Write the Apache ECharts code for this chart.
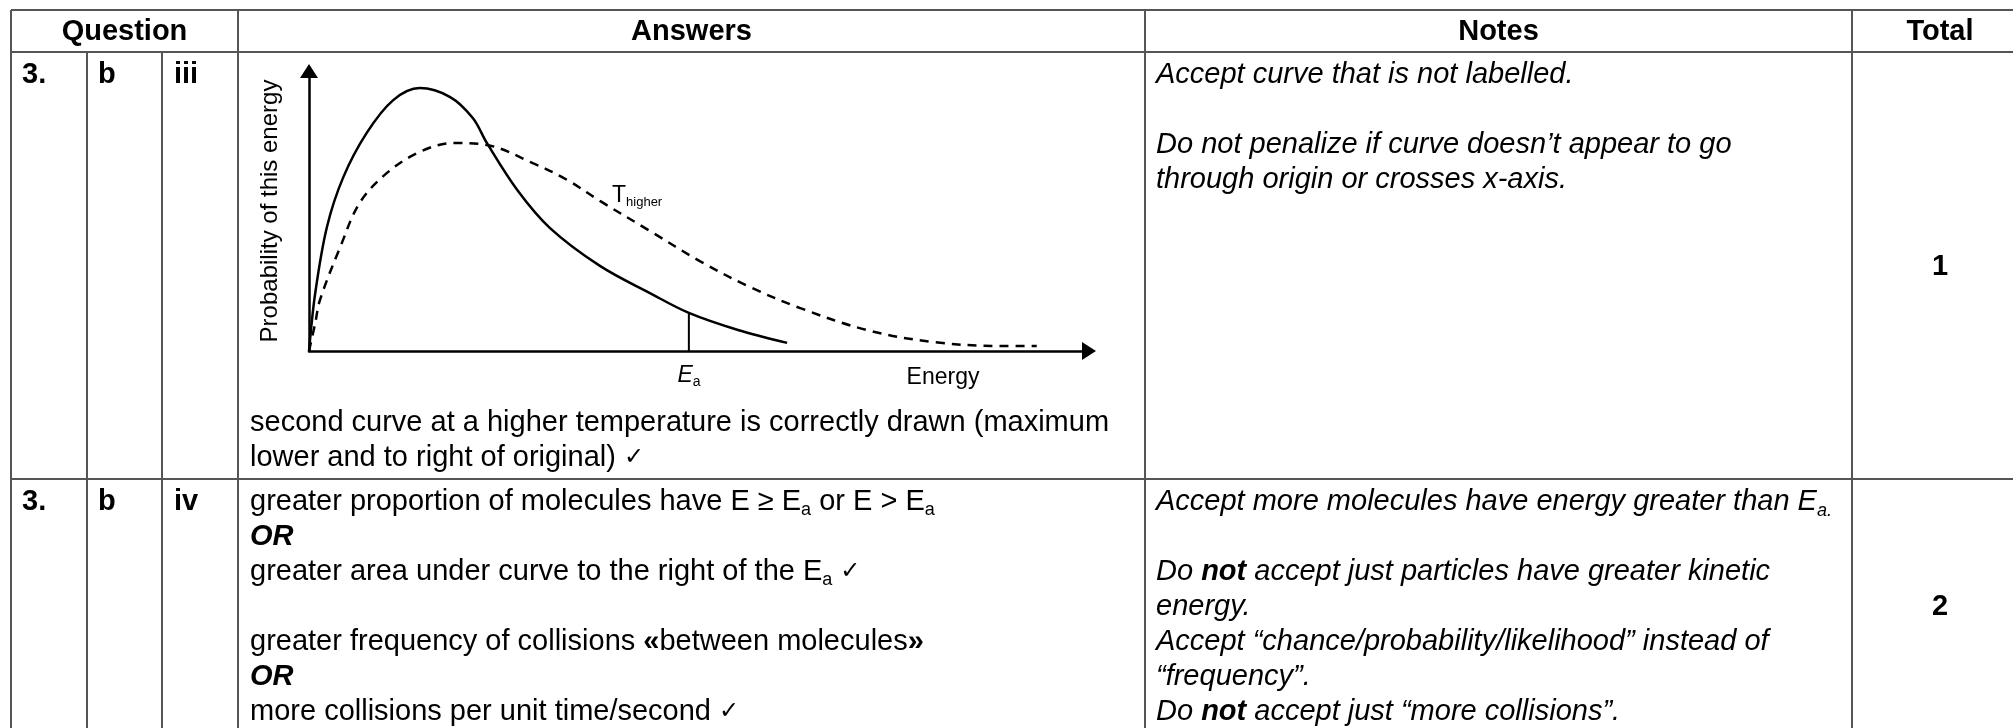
<!DOCTYPE html>
<html>
<head>
<meta charset="utf-8">
<title>3 b iii / iv</title>
<script src="https://cdn.jsdelivr.net/npm/echarts@6/dist/echarts.min.js"></script>
<style>
html, body {margin:0; padding:0; background:#fff;}
#chart {width:2013px; height:728px;}
</style>
</head>
<body>
<div id="chart"></div>
<script>
// 原温度曲线，读图估计 (energy, probability)
var lowEnergy = [0, 0.8, 2.3, 4.4, 7.4, 10.8, 14.2, 18.1, 21.0, 22.8, 26.7, 30.9, 37.3, 43.7, 48.7, 55.0, 61.3];
var lowProb   = [0, 20.7, 44.3, 62.1, 77.9, 89.6, 93.9, 90.7, 83.2, 74.3, 57.5, 43.9, 30.4, 20.7, 13.6, 7.5, 2.9];

// 较高温度曲线（虚线）
var highEnergy = [0, 0.8, 1.4, 4.0, 6.5, 10.0, 14.2, 18.5, 22.8, 28.7, 33.1, 37.3, 43.7, 50.1, 56.5, 62.9, 71.5, 80.0, 88.6, 93.3];
var highProb   = [0, 10.0, 18.2, 37.1, 52.9, 63.6, 71.1, 74.3, 73.6, 67.1, 61.1, 53.6, 42.9, 32.1, 22.9, 15.4, 7.5, 3.2, 1.8, 1.8];

// Ea 竖线
var eaEnergy = 48.7;
var eaProb = 13.6;

// 表格文字
var headers = ['Question', 'Answers', 'Notes', 'Total'];
var qNums = ['3.', '3.'];
var qParts = ['b', 'b'];
var qSubs = ['iii', 'iv'];
var totals = ['1', '2'];
var answers1 = [
	'second curve at a higher temperature is correctly drawn (maximum',
	'lower and to right of original) {tk|✓}'
];
var answers2 = [
	'greater proportion of molecules have E ≥ E{s|a} or E > E{s|a}',
	'{bi|OR}',
	'greater area under curve to the right of the E{s|a} {tk|✓}',
	'',
	'greater frequency of collisions {b|«}between molecules{b|»}',
	'{bi|OR}',
	'more collisions per unit time/second {tk|✓}'
];
var notes1 = [
	'Accept curve that is not labelled.',
	'',
	'Do not penalize if curve doesn’t appear to go',
	'through origin or crosses x-axis.'
];
var notes2 = [
	'Accept more molecules have energy greater than E{si|a.}',
	'',
	'Do {bi|not} accept just particles have greater kinetic',
	'energy.',
	'Accept “chance/probability/likelihood” instead of',
	'“frequency”.',
	'Do {bi|not} accept just “more collisions”.'
];

var FONT = '"Liberation Sans", Arial, sans-serif';
var FS = 29;
var LH = 35;

function pairs(xs, ys) {
	var arr = [];
	for (var i = 0; i < xs.length; i++) {
		arr.push([xs[i], ys[i]]);
	}
	return arr;
}

var rich = {
	s: {fontFamily: FONT, fontSize: 18, lineHeight: 12, verticalAlign: 'bottom', fill: '#000'},
	si: {fontFamily: FONT, fontSize: 18, fontStyle: 'italic', lineHeight: 12, verticalAlign: 'bottom', fill: '#000'},
	b: {fontFamily: FONT, fontSize: FS, fontWeight: 'bold', lineHeight: LH, fill: '#000'},
	bi: {fontFamily: FONT, fontSize: FS, fontWeight: 'bold', fontStyle: 'italic', lineHeight: LH, fill: '#000'},
	tk: {fontFamily: '"DejaVu Sans", sans-serif', fontSize: 24, lineHeight: LH, fill: '#000'}
};

function txt(x, y, text, opt) {
	opt = opt || {};
	return {
		type: 'text', x: x, y: y, z: 10,
		style: {
			text: text,
			fontFamily: FONT,
			fontSize: opt.size || FS,
			fontWeight: opt.weight || 'normal',
			fontStyle: opt.italic ? 'italic' : 'normal',
			fill: '#000',
			lineHeight: LH,
			align: opt.align || 'left', textAlign: opt.align || 'left',
			verticalAlign: 'middle', textVerticalAlign: 'middle',
			rich: rich
		}
	};
}

function ln(x1, y1, x2, y2) {
	return {type: 'line', z: 5, shape: {x1: x1, y1: y1, x2: x2, y2: y2}, style: {stroke: '#555', lineWidth: 2}};
}

var graphics = [];
// 表格线
graphics.push(ln(11, 10, 2013, 10));
graphics.push(ln(11, 52, 2013, 52));
graphics.push(ln(11, 479, 2013, 479));
graphics.push(ln(11, 10, 11, 728));
graphics.push(ln(87, 52, 87, 728));
graphics.push(ln(162, 52, 162, 728));
graphics.push(ln(238, 10, 238, 728));
graphics.push(ln(1145, 10, 1145, 728));
graphics.push(ln(1852, 10, 1852, 728));

// 表头
var headX = [124.5, 691.5, 1498.5, 1940];
for (var i = 0; i < headers.length; i++) {
	graphics.push(txt(headX[i], 32, headers[i], {weight: 'bold', align: 'center'}));
}

// 两行
var rowTop = [75, 502];
var rowMid = [267, 607];
var ansList = [answers1, answers2];
var ansStart = [423, 502];
var noteList = [notes1, notes2];
for (var r = 0; r < 2; r++) {
	graphics.push(txt(22, rowTop[r], qNums[r], {weight: 'bold'}));
	graphics.push(txt(98, rowTop[r], qParts[r], {weight: 'bold'}));
	graphics.push(txt(174, rowTop[r], qSubs[r], {weight: 'bold'}));
	graphics.push(txt(1940, rowMid[r], totals[r], {weight: 'bold', align: 'center'}));
	for (var k = 0; k < ansList[r].length; k++) {
		if (ansList[r][k]) graphics.push(txt(250, ansStart[r] + k * LH, ansList[r][k]));
	}
	for (var k = 0; k < noteList[r].length; k++) {
		if (noteList[r][k]) graphics.push(txt(1156, rowTop[r] + k * LH, noteList[r][k], {italic: true}));
	}
}

// 图内标签
graphics.push({
	type: 'text', x: 612, y: 196, z: 10,
	style: {
		text: '{t|T}{h|higher}', align: 'left', verticalAlign: 'middle', textAlign: 'left', textVerticalAlign: 'middle',
		rich: {
			t: {fontFamily: FONT, fontSize: 23, lineHeight: 26, fill: '#000'},
			h: {fontFamily: FONT, fontSize: 13, lineHeight: 8, verticalAlign: 'bottom', fill: '#000'}
		}
	}
});
graphics.push({
	type: 'text', x: 689, y: 376, z: 10,
	style: {
		text: '{e|E}{a|a}', align: 'center', verticalAlign: 'middle', textAlign: 'center', textVerticalAlign: 'middle',
		rich: {
			e: {fontFamily: FONT, fontSize: 23, fontStyle: 'italic', lineHeight: 26, fill: '#000'},
			a: {fontFamily: FONT, fontSize: 14, lineHeight: 8, verticalAlign: 'bottom', fill: '#000'}
		}
	}
});
graphics.push(txt(943, 378, 'Energy', {size: 23, align: 'center'}));

var axisLineStyle = {color: '#000', width: 2.5};

var option = {
	animation: false,
	backgroundColor: '#fff',
	grid: {left: 309, top: 71, width: 780, height: 280, outerBoundsMode: 'none'},
	xAxis: {
		type: 'value', min: 0, max: 100,
		axisLine: {show: true, onZero: false, symbol: ['none', 'triangle'], symbolSize: [18, 14], lineStyle: axisLineStyle},
		axisTick: {show: false}, axisLabel: {show: false}, splitLine: {show: false}
	},
	yAxis: {
		type: 'value', min: 0, max: 100,
		name: 'Probability of this energy',
		nameLocation: 'middle', nameGap: 27, nameRotate: 90,
		nameTextStyle: {fontFamily: FONT, fontSize: 24, color: '#000'},
		axisLine: {show: true, onZero: false, symbol: ['none', 'triangle'], symbolSize: [18, 14], lineStyle: axisLineStyle},
		axisTick: {show: false}, axisLabel: {show: false}, splitLine: {show: false}
	},
	series: [
		{
			name: 'original', type: 'line', smooth: 0.35, showSymbol: false, silent: true,
			lineStyle: {color: '#000', width: 2.5},
			data: pairs(lowEnergy, lowProb)
		},
		{
			name: 'higher', type: 'line', smooth: 0.35, showSymbol: false, silent: true,
			lineStyle: {color: '#000', width: 2.5, type: [9, 7]},
			data: pairs(highEnergy, highProb)
		},
		{
			name: 'Ea', type: 'line', showSymbol: false, silent: true,
			lineStyle: {color: '#000', width: 2},
			data: [[eaEnergy, 0], [eaEnergy, eaProb]]
		}
	],
	graphic: graphics
};

var myChart = echarts.init(document.getElementById('chart'));
myChart.setOption(option);
</script>
</body>
</html>
